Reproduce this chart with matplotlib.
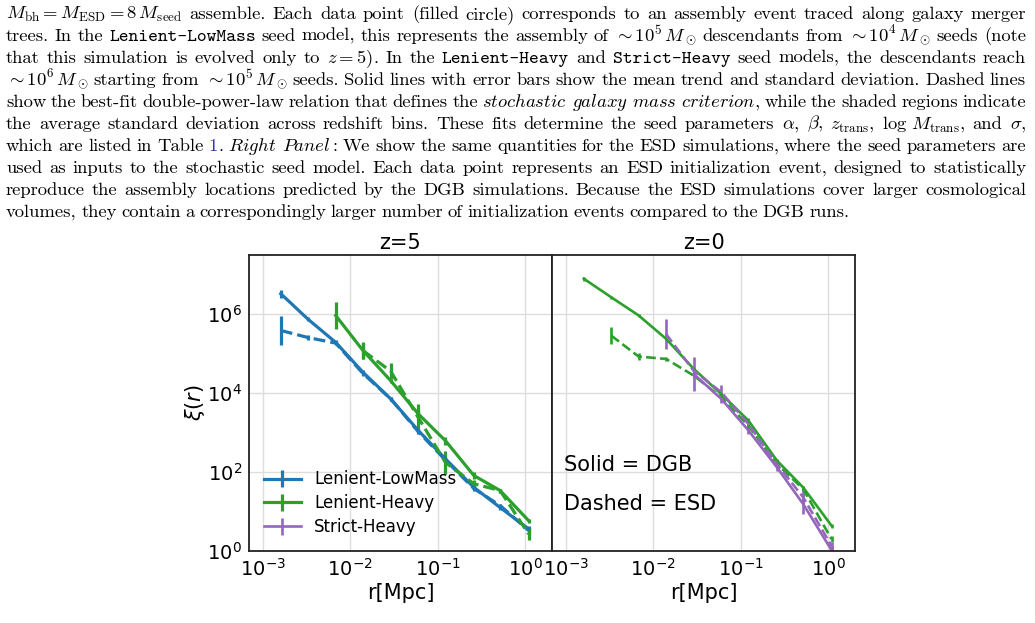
import numpy as np
import matplotlib
matplotlib.use('Agg')
import matplotlib.pyplot as plt

plt.rcParams['mathtext.fontset'] = 'cm'

# separation bins (Mpc)
r_bins = [0.0016, 0.0033, 0.0068, 0.014, 0.029, 0.060, 0.123, 0.26, 0.52, 1.10]

# log10 xi(r) and error half-widths (dex); first index = first bin used
# z = 5
lowmass_dgb_z5 = [6.51, 5.86, 5.28, 4.52, 3.85, 3.05, 2.33, 1.61, 1.10, 0.56]
lowmass_dgb_z5_err = [0.1, 0.05, 0.05, 0.05, 0.05, 0.05, 0.05, 0.05, 0.05, 0.08]
lowmass_esd_z5 = [5.58, 5.40, 5.26, 4.49, 3.85, 3.02, 2.30, 1.58, 1.15, 0.52]
lowmass_esd_z5_err = [0.37, 0.06, 0.05, 0.05, 0.05, 0.05, 0.05, 0.05, 0.05, 0.08]
heavy_dgb_z5 = [5.96, 5.07, 4.31, 3.47, 2.79, 1.91, 1.53, 0.77]        # from bin 2
heavy_dgb_z5_err = [0.35, 0.22, 0.05, 0.1, 0.1, 0.1, 0.05, 0.05]
heavy_esd_z5 = [5.07, 4.55, 3.38, 2.24, 1.70, 1.53, 0.43]              # from bin 3
heavy_esd_z5_err = [0.2, 0.2, 0.35, 0.3, 0.1, 0.05, 0.15]
# z = 0
heavy_dgb_z0 = [6.89, 6.42, 5.96, 5.37, 4.61, 3.97, 3.30, 2.29, 1.61, 0.64]
heavy_dgb_z0_err = [0.05, 0.04, 0.03, 0.03, 0.03, 0.03, 0.03, 0.03, 0.03, 0.05]
heavy_esd_z0 = [5.45, 4.92, 4.86, 4.44, 3.89, 3.17, 2.20, 1.57, 0.30]  # from bin 1
heavy_esd_z0_err = [0.21, 0.08, 0.05, 0.05, 0.05, 0.05, 0.05, 0.05, 0.08]
strict_dgb_z0 = [4.48, 3.85, 3.05, 2.12, 1.19, 0.02]                   # from bin 4
strict_dgb_z0_err = [0.42, 0.1, 0.1, 0.1, 0.25, 0.1]
strict_esd_z0 = [5.49, 4.56, 4.02, 3.21, 2.20, 1.36, 0.13]             # from bin 3
strict_esd_z0_err = [0.38, 0.1, 0.18, 0.15, 0.1, 0.2, 0.1]

blue, green, purple = '#1f77b4', '#2ca02c', '#9467bd'

caption = [
    r"$M_\mathrm{bh}=M_\mathrm{ESD}=8\,M_\mathrm{seed}$ assemble. Each data point (filled circle) corresponds to an assembly event traced along galaxy merger",
    r"trees. In the @Lenient-LowMass seed model, this represents the assembly of $\sim10^5\,M_\odot$ descendants from $\sim10^4\,M_\odot$ seeds (note",
    r"that this simulation is evolved only to $z=5$). In the @Lenient-Heavy and @Strict-Heavy seed models, the descendants reach",
    r"$\sim10^6\,M_\odot$ starting from $\sim10^5\,M_\odot$ seeds. Solid lines with error bars show the mean trend and standard deviation. Dashed lines",
    r"show the best-fit double-power-law relation that defines the $\mathit{stochastic}$ $\mathit{galaxy}$ $\mathit{mass}$ $\mathit{criterion}$, while the shaded regions indicate",
    r"the average standard deviation across redshift bins. These fits determine the seed parameters $\alpha$, $\beta$, $z_\mathrm{trans}$, $\log\,M_\mathrm{trans}$, and $\sigma$,",
    r"which are listed in Table ^1|. $\mathit{Right}$ $\mathit{Panel:}$ We show the same quantities for the ESD simulations, where the seed parameters are",
    r"used as inputs to the stochastic seed model. Each data point represents an ESD initialization event, designed to statistically",
    r"reproduce the assembly locations predicted by the DGB simulations. Because the ESD simulations cover larger cosmological",
    r"volumes, they contain a correspondingly larger number of initialization events compared to the DGB runs.",
]

W, H = 1035, 623
fig = plt.figure(figsize=(W / 100, H / 100), dpi=100)
renderer = fig.canvas.get_renderer()


def put_caption(lines, left=6, right=1026, top=19, step=21.95, size=13.4):
    for i, line in enumerate(lines):
        y = 1 - (top + i * step) / H
        words = []
        for word in line.split(' '):
            parts = []
            for p in word.split('|'):
                fam, col = 'cmr10', 'black'
                if p.startswith('@'):
                    p, fam = p[1:], 'cmtt10'
                elif p.startswith('^'):
                    p, col = p[1:], '#3333bb'
                t = fig.text(0, y, p, family=fam, color=col, fontsize=size,
                             va='baseline', ha='left')
                parts.append((t, t.get_window_extent(renderer).width))
            words.append(parts)
        widths = [sum(w for _, w in parts) for parts in words]
        if i < len(lines) - 1:
            gap = (right - left - sum(widths)) / (len(words) - 1)
        else:
            gap = 4.6
        x = left
        for parts, w in zip(words, widths):
            xx = x
            for t, pw in parts:
                t.set_x(xx / W)
                xx += pw
            x += w + gap


put_caption(caption)

ax1 = fig.add_axes([249 / W, 1 - 551 / H, 303 / W, 296 / H])
ax2 = fig.add_axes([552 / W, 1 - 551 / H, 303 / W, 296 / H], sharey=ax1)


def draw(ax, start, logxi, err, color, ls, lw, label=None):
    x = r_bins[start:start + len(logxi)]
    l = np.array(logxi)
    e = np.array(err)
    y = 10 ** l
    yerr = [y - 10 ** (l - e), 10 ** (l + e) - y]
    return ax.errorbar(x, y, yerr=yerr, color=color, ls=ls, lw=lw,
                       elinewidth=lw, capsize=0, label=label)


h1 = draw(ax1, 0, lowmass_dgb_z5, lowmass_dgb_z5_err, blue, '-', 2.3, 'Lenient-LowMass')
draw(ax1, 0, lowmass_esd_z5, lowmass_esd_z5_err, blue, '--', 2.3)
h2 = draw(ax1, 2, heavy_dgb_z5, heavy_dgb_z5_err, green, '-', 2.3, 'Lenient-Heavy')
draw(ax1, 3, heavy_esd_z5, heavy_esd_z5_err, green, '--', 2.3)

draw(ax2, 0, heavy_dgb_z0, heavy_dgb_z0_err, green, '-', 1.9)
draw(ax2, 1, heavy_esd_z0, heavy_esd_z0_err, green, '--', 1.9)
h3 = draw(ax2, 4, strict_dgb_z0, strict_dgb_z0_err, purple, '-', 1.9, 'Strict-Heavy')
draw(ax2, 3, strict_esd_z0, strict_esd_z0_err, purple, '--', 1.9)

for ax, title in [(ax1, 'z=5'), (ax2, 'z=0')]:
    ax.set_xscale('log')
    ax.set_yscale('log')
    ax.set_xlim(10 ** -3.16, 10 ** 0.31)
    ax.set_ylim(1, 10 ** 7.49)
    ax.set_xticks([1e-3, 1e-2, 1e-1, 1e0])
    ax.set_yticks([1, 1e2, 1e4, 1e6])
    ax.minorticks_off()
    ax.tick_params(length=0, labelsize=14, pad=5)
    ax.grid(True, color='#dddddd', lw=1)
    ax.set_axisbelow(True)
    ax.set_title(title, fontsize=15, pad=4)
    ax.set_xlabel('r[Mpc]', fontsize=15, labelpad=2)
    for s in ax.spines.values():
        s.set_color('#222222')
        s.set_linewidth(1.3)

ax2.tick_params(labelleft=False)
ax1.set_ylabel(r'$\xi(r)$', fontsize=15, math_fontfamily='dejavusans', labelpad=0)

ax1.legend([h1, h2, h3], ['Lenient-LowMass', 'Lenient-Heavy', 'Strict-Heavy'],
           loc='lower left', frameon=False, fontsize=12, handlelength=2.2,
           labelspacing=0.35, borderaxespad=0.6, borderpad=0.3)

ax2.text(0.04, 0.29, 'Solid = DGB', transform=ax2.transAxes, fontsize=15, va='center')
ax2.text(0.04, 0.16, 'Dashed = ESD', transform=ax2.transAxes, fontsize=15, va='center')

fig.savefig('out.png', dpi=100)
